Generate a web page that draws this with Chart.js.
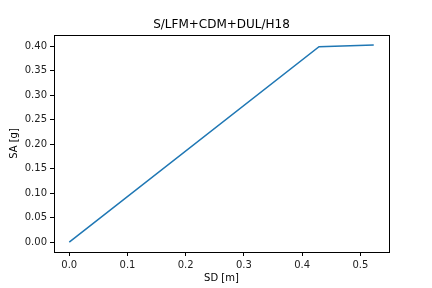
<!DOCTYPE html>
<html>
<head>
<meta charset="utf-8">
<script src="https://cdn.jsdelivr.net/npm/chart.js@4"></script>
<style>
  html, body { margin: 0; padding: 0; background: #fff; }
  #wrap { width: 432px; height: 288px; }
</style>
</head>
<body>
<div id="wrap"><canvas id="chart" width="432" height="288"></canvas></div>
<script>
// capacity curve values
const sd = [0.0, 0.429, 0.523];
const sa = [0.0, 0.3995, 0.403];
const chartTitle = 'S/LFM+CDM+DUL/H18';

// matplotlib-style box round the plot area, title centred over the axes
const frame = {
    id: 'frame',
    afterDraw(chart) {
        const a = chart.chartArea, ctx = chart.ctx;
        ctx.save();
        ctx.strokeStyle = '#000';
        ctx.lineWidth = 1;
        ctx.strokeRect(Math.round(a.left) + 0.5, Math.round(a.top) + 0.5,
            Math.round(a.right - a.left), Math.round(a.bottom - a.top));
        ctx.fillStyle = '#000';
        ctx.font = '12px "DejaVu Sans"';
        ctx.textAlign = 'center';
        ctx.textBaseline = 'middle';
        ctx.fillText(chartTitle, (a.left + a.right) / 2, a.top - 10);
        ctx.restore();
    }
};

const tickFont = { family: 'DejaVu Sans', size: 10 };

new Chart(document.getElementById('chart').getContext('2d'), {
    type: 'line',
    data: {
        datasets: [{
            data: sd.map((x, i) => ({ x: x, y: sa[i] })),
            borderColor: '#1f77b4',
            borderWidth: 1.5,
            pointRadius: 0,
            fill: false,
            tension: 0
        }]
    },
    options: {
        responsive: false,
        animation: false,
        layout: { padding: { left: 4, right: 43, top: 35, bottom: 0 } },
        plugins: {
            legend: { display: false },
            tooltip: { enabled: false },
            title: { display: false }
        },
        scales: {
            x: {
                type: 'linear',
                min: -0.0262,
                max: 0.5492,
                afterFit: s => { s.height = 36; },
                grid: { drawOnChartArea: false, tickLength: 4, color: '#000' },
                border: { color: '#000' },
                ticks: {
                    stepSize: 0.1, includeBounds: false, padding: 3,
                    color: '#222', font: tickFont, maxRotation: 0,
                    callback: v => v.toFixed(1)
                },
                title: { display: true, text: 'SD [m]', color: '#000', font: tickFont, padding: { top: 4, bottom: 4 } }
            },
            y: {
                type: 'linear',
                min: -0.0202,
                max: 0.4233,
                afterFit: s => { s.width = 50; },
                grid: { drawOnChartArea: false, tickLength: 4, color: '#000' },
                border: { color: '#000' },
                ticks: {
                    stepSize: 0.05, includeBounds: false, padding: 3,
                    color: '#222', font: tickFont,
                    callback: v => v.toFixed(2)
                },
                title: { display: true, text: 'SA [g]', color: '#000', font: tickFont, padding: { top: 4, bottom: 4 } }
            }
        }
    },
    plugins: [frame]
});
</script>
</body>
</html>
